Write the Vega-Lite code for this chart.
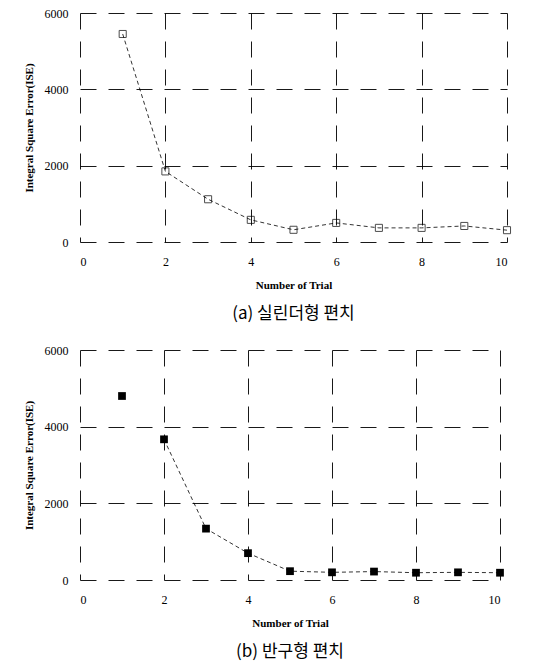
{
  "$schema": "https://vega.github.io/schema/vega-lite/v6.json",
  "background": "white",
  "padding": {"left": 23, "top": 7, "right": 20, "bottom": 5},
  "spacing": 22,
  "datasets": {
    "a": [
      {"trial": 1, "ise": 5450},
      {"trial": 2, "ise": 1850},
      {"trial": 3, "ise": 1120},
      {"trial": 4, "ise": 580},
      {"trial": 5, "ise": 320},
      {"trial": 6, "ise": 500},
      {"trial": 7, "ise": 370},
      {"trial": 8, "ise": 370},
      {"trial": 9, "ise": 420},
      {"trial": 10, "ise": 310}
    ],
    "b": [
      {"trial": 1, "ise": 4800},
      {"trial": 2, "ise": 3670},
      {"trial": 3, "ise": 1340},
      {"trial": 4, "ise": 700},
      {"trial": 5, "ise": 230},
      {"trial": 6, "ise": 200},
      {"trial": 7, "ise": 220},
      {"trial": 8, "ise": 190},
      {"trial": 9, "ise": 200},
      {"trial": 10, "ise": 190}
    ]
  },
  "config": {
    "view": {"stroke": null},
    "font": "Liberation Serif",
    "axis": {
      "domain": false,
      "ticks": false,
      "grid": true,
      "gridColor": "#000000",
      "gridDash": [16, 12],
      "gridWidth": 1,
      "gridOpacity": 0.9,
      "labelFont": "Liberation Serif",
      "labelFontSize": 12,
      "labelColor": "#000000",
      "titleFont": "Liberation Serif",
      "titleFontSize": 11,
      "titleFontWeight": "bold",
      "titleColor": "#000000"
    },
    "title": {
      "orient": "bottom",
      "font": "Noto Sans CJK KR",
      "fontSize": 17,
      "fontWeight": "normal",
      "color": "#000000",
      "offset": 16
    }
  },
  "vconcat": [
    {
      "width": 427,
      "height": 229,
      "title": "(a) 실린더형 편치",
      "data": {"name": "a"},
      "encoding": {
        "x": {"field": "trial", "type": "quantitative", "scale": {"domain": [0, 10], "nice": false}, "axis": {"values": [0, 2, 4, 6, 8, 10], "format": "d", "title": "Number of Trial", "labelPadding": 14, "titlePadding": 12}},
        "y": {"field": "ise", "type": "quantitative", "scale": {"domain": [0, 6000], "nice": false}, "axis": {"values": [0, 2000, 4000, 6000], "format": "d", "title": "Integral Square Error(ISE)", "labelPadding": 12, "titlePadding": 10}}
      },
      "layer": [
        {"mark": {"type": "line", "color": "#000000", "strokeDash": [4, 3], "strokeWidth": 0.8}},
        {"mark": {"type": "point", "shape": "square", "filled": false, "color": "#000000", "size": 50, "strokeWidth": 1}}
      ]
    },
    {
      "width": 420,
      "height": 230,
      "title": "(b) 반구형 편치",
      "data": {"name": "b"},
      "encoding": {
        "x": {"field": "trial", "type": "quantitative", "scale": {"domain": [0, 10], "nice": false}, "axis": {"values": [0, 2, 4, 6, 8, 10], "format": "d", "title": "Number of Trial", "labelPadding": 14, "titlePadding": 12}},
        "y": {"field": "ise", "type": "quantitative", "scale": {"domain": [0, 6000], "nice": false}, "axis": {"values": [0, 2000, 4000, 6000], "format": "d", "title": "Integral Square Error(ISE)", "labelPadding": 12, "titlePadding": 10}}
      },
      "layer": [
        {"transform": [{"filter": "datum.trial >= 2"}], "mark": {"type": "line", "color": "#000000", "strokeDash": [4, 3], "strokeWidth": 0.8}},
        {"mark": {"type": "square", "filled": true, "color": "#000000", "size": 60, "opacity": 1}}
      ]
    }
  ]
}
